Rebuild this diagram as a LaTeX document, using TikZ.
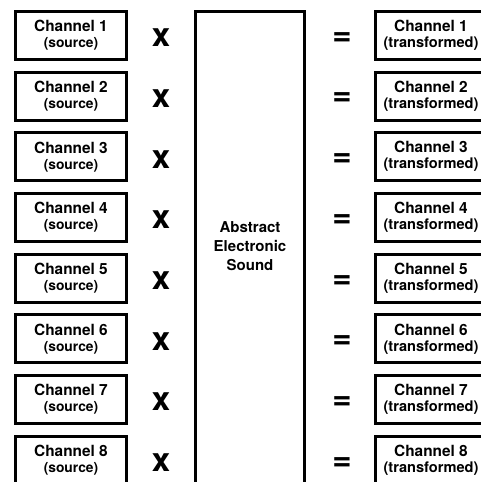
\documentclass[tikz,border=0pt]{standalone}
\usepackage{fontspec}
\setmainfont{TeX Gyre Heros}
\begin{document}
\begin{tikzpicture}[x=1pt,y=-1pt,
  chan/.style={draw=black,line width=3pt,minimum width=111pt,minimum height=48pt,
    inner sep=0pt,align=center,font=\bfseries\fontsize{15.4}{16}\selectfont},
  op/.style={font=\bfseries\fontsize{33}{33}\selectfont,inner sep=0pt},
  bigbox/.style={draw=black,line width=3pt}]
\useasboundingbox (0,0) rectangle (481,482);
% central block shared by all channels
\draw[bigbox] (195.5,11.5) rectangle (304,486);
\node[align=center,font=\bfseries\fontsize{15}{19}\selectfont,inner sep=0pt] (abs) at (250,246)
  {Abstract\\Electronic\\Sound};
\foreach \i in {1,...,8}{
  \pgfmathsetmacro{\yc}{35.3+60.7*(\i-1)}
  \node[chan] (src\i) at (71,\yc) {Channel \i\\{\fontsize{13.8}{16}\selectfont(source)}};
  \node[op] (x\i) at (161,\yc+2.5) {x};
  \node[op] (eq\i) at (342,\yc+3.5) {=};
  \node[chan] (dst\i) at (431,\yc) {Channel \i\\{\fontsize{14.6}{16}\selectfont(transformed)}};
}
\end{tikzpicture}
\end{document}
